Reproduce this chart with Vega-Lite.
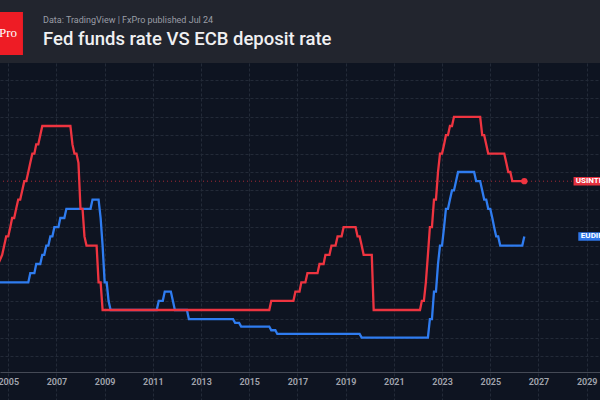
{
  "$schema": "https://vega.github.io/schema/vega-lite/v6.json",
  "width": 600,
  "height": 337,
  "autosize": {"type": "none"},
  "padding": {"top": 63, "left": 0, "right": 0, "bottom": 0},
  "background": "#22252e",
  "title": {
    "text": "Data: TradingView | FxPro published Jul 24",
    "subtitle": "Fed funds rate VS ECB deposit rate",
    "anchor": "start",
    "frame": "group",
    "dx": 43,
    "offset": -37,
    "font": "Roboto",
    "fontSize": 9,
    "fontWeight": "normal",
    "color": "#9a9da6",
    "subtitleFont": "Roboto",
    "subtitleFontSize": 18.5,
    "subtitleFontWeight": 500,
    "subtitleColor": "#f0f0f2",
    "subtitlePadding": 5
  },
  "config": {
    "view": {"fill": "#0e1421", "stroke": null},
    "axis": {"gridColor": "#232a38", "gridDash": [3, 2], "gridWidth": 1}
  },
  "datasets": {
    "rates": [
      {"date": "2004-08-01", "series": "USINTR", "rate": 1.5},
      {"date": "2004-10-01", "series": "USINTR", "rate": 1.75},
      {"date": "2004-11-01", "series": "USINTR", "rate": 2.0},
      {"date": "2004-12-01", "series": "USINTR", "rate": 2.25},
      {"date": "2005-01-01", "series": "USINTR", "rate": 2.25},
      {"date": "2005-02-01", "series": "USINTR", "rate": 2.5},
      {"date": "2005-03-01", "series": "USINTR", "rate": 2.75},
      {"date": "2005-04-01", "series": "USINTR", "rate": 2.75},
      {"date": "2005-05-01", "series": "USINTR", "rate": 3.0},
      {"date": "2005-06-01", "series": "USINTR", "rate": 3.25},
      {"date": "2005-07-01", "series": "USINTR", "rate": 3.25},
      {"date": "2005-08-01", "series": "USINTR", "rate": 3.5},
      {"date": "2005-09-01", "series": "USINTR", "rate": 3.75},
      {"date": "2005-10-01", "series": "USINTR", "rate": 3.75},
      {"date": "2005-11-01", "series": "USINTR", "rate": 4.0},
      {"date": "2005-12-01", "series": "USINTR", "rate": 4.25},
      {"date": "2006-01-01", "series": "USINTR", "rate": 4.5},
      {"date": "2006-02-01", "series": "USINTR", "rate": 4.5},
      {"date": "2006-03-01", "series": "USINTR", "rate": 4.75},
      {"date": "2006-04-01", "series": "USINTR", "rate": 4.75},
      {"date": "2006-05-01", "series": "USINTR", "rate": 5.0},
      {"date": "2006-06-01", "series": "USINTR", "rate": 5.25},
      {"date": "2007-08-01", "series": "USINTR", "rate": 5.25},
      {"date": "2007-09-01", "series": "USINTR", "rate": 4.75},
      {"date": "2007-10-01", "series": "USINTR", "rate": 4.5},
      {"date": "2007-11-01", "series": "USINTR", "rate": 4.5},
      {"date": "2007-12-01", "series": "USINTR", "rate": 4.25},
      {"date": "2008-01-01", "series": "USINTR", "rate": 3.0},
      {"date": "2008-02-01", "series": "USINTR", "rate": 3.0},
      {"date": "2008-03-01", "series": "USINTR", "rate": 2.25},
      {"date": "2008-04-01", "series": "USINTR", "rate": 2.0},
      {"date": "2008-09-01", "series": "USINTR", "rate": 2.0},
      {"date": "2008-10-01", "series": "USINTR", "rate": 1.0},
      {"date": "2008-11-01", "series": "USINTR", "rate": 1.0},
      {"date": "2008-12-01", "series": "USINTR", "rate": 0.25},
      {"date": "2015-11-01", "series": "USINTR", "rate": 0.25},
      {"date": "2015-12-01", "series": "USINTR", "rate": 0.5},
      {"date": "2016-11-01", "series": "USINTR", "rate": 0.5},
      {"date": "2016-12-01", "series": "USINTR", "rate": 0.75},
      {"date": "2017-02-01", "series": "USINTR", "rate": 0.75},
      {"date": "2017-03-01", "series": "USINTR", "rate": 1.0},
      {"date": "2017-05-01", "series": "USINTR", "rate": 1.0},
      {"date": "2017-06-01", "series": "USINTR", "rate": 1.25},
      {"date": "2017-11-01", "series": "USINTR", "rate": 1.25},
      {"date": "2017-12-01", "series": "USINTR", "rate": 1.5},
      {"date": "2018-02-01", "series": "USINTR", "rate": 1.5},
      {"date": "2018-03-01", "series": "USINTR", "rate": 1.75},
      {"date": "2018-05-01", "series": "USINTR", "rate": 1.75},
      {"date": "2018-06-01", "series": "USINTR", "rate": 2.0},
      {"date": "2018-08-01", "series": "USINTR", "rate": 2.0},
      {"date": "2018-09-01", "series": "USINTR", "rate": 2.25},
      {"date": "2018-11-01", "series": "USINTR", "rate": 2.25},
      {"date": "2018-12-01", "series": "USINTR", "rate": 2.5},
      {"date": "2019-06-01", "series": "USINTR", "rate": 2.5},
      {"date": "2019-07-01", "series": "USINTR", "rate": 2.25},
      {"date": "2019-08-01", "series": "USINTR", "rate": 2.25},
      {"date": "2019-09-01", "series": "USINTR", "rate": 2.0},
      {"date": "2019-10-01", "series": "USINTR", "rate": 1.75},
      {"date": "2020-02-01", "series": "USINTR", "rate": 1.75},
      {"date": "2020-03-01", "series": "USINTR", "rate": 0.25},
      {"date": "2022-02-01", "series": "USINTR", "rate": 0.25},
      {"date": "2022-03-01", "series": "USINTR", "rate": 0.5},
      {"date": "2022-04-01", "series": "USINTR", "rate": 0.5},
      {"date": "2022-05-01", "series": "USINTR", "rate": 1.0},
      {"date": "2022-06-01", "series": "USINTR", "rate": 1.75},
      {"date": "2022-07-01", "series": "USINTR", "rate": 2.5},
      {"date": "2022-08-01", "series": "USINTR", "rate": 2.5},
      {"date": "2022-09-01", "series": "USINTR", "rate": 3.25},
      {"date": "2022-10-01", "series": "USINTR", "rate": 3.25},
      {"date": "2022-11-01", "series": "USINTR", "rate": 4.0},
      {"date": "2022-12-01", "series": "USINTR", "rate": 4.5},
      {"date": "2023-01-01", "series": "USINTR", "rate": 4.5},
      {"date": "2023-02-01", "series": "USINTR", "rate": 4.75},
      {"date": "2023-03-01", "series": "USINTR", "rate": 5.0},
      {"date": "2023-04-01", "series": "USINTR", "rate": 5.0},
      {"date": "2023-05-01", "series": "USINTR", "rate": 5.25},
      {"date": "2023-06-01", "series": "USINTR", "rate": 5.25},
      {"date": "2023-07-01", "series": "USINTR", "rate": 5.5},
      {"date": "2024-08-01", "series": "USINTR", "rate": 5.5},
      {"date": "2024-09-01", "series": "USINTR", "rate": 5.0},
      {"date": "2024-10-01", "series": "USINTR", "rate": 5.0},
      {"date": "2024-11-01", "series": "USINTR", "rate": 4.75},
      {"date": "2024-12-01", "series": "USINTR", "rate": 4.5},
      {"date": "2025-08-01", "series": "USINTR", "rate": 4.5},
      {"date": "2025-09-01", "series": "USINTR", "rate": 4.25},
      {"date": "2025-10-01", "series": "USINTR", "rate": 4.0},
      {"date": "2025-11-01", "series": "USINTR", "rate": 4.0},
      {"date": "2025-12-01", "series": "USINTR", "rate": 3.75},
      {"date": "2026-06-01", "series": "USINTR", "rate": 3.75},
      {"date": "2004-08-01", "series": "EUDIR", "rate": 1.0},
      {"date": "2005-11-01", "series": "EUDIR", "rate": 1.0},
      {"date": "2005-12-01", "series": "EUDIR", "rate": 1.25},
      {"date": "2006-02-01", "series": "EUDIR", "rate": 1.25},
      {"date": "2006-03-01", "series": "EUDIR", "rate": 1.5},
      {"date": "2006-05-01", "series": "EUDIR", "rate": 1.5},
      {"date": "2006-06-01", "series": "EUDIR", "rate": 1.75},
      {"date": "2006-07-01", "series": "EUDIR", "rate": 1.75},
      {"date": "2006-08-01", "series": "EUDIR", "rate": 2.0},
      {"date": "2006-09-01", "series": "EUDIR", "rate": 2.0},
      {"date": "2006-10-01", "series": "EUDIR", "rate": 2.25},
      {"date": "2006-11-01", "series": "EUDIR", "rate": 2.25},
      {"date": "2006-12-01", "series": "EUDIR", "rate": 2.5},
      {"date": "2007-02-01", "series": "EUDIR", "rate": 2.5},
      {"date": "2007-03-01", "series": "EUDIR", "rate": 2.75},
      {"date": "2007-05-01", "series": "EUDIR", "rate": 2.75},
      {"date": "2007-06-01", "series": "EUDIR", "rate": 3.0},
      {"date": "2008-06-01", "series": "EUDIR", "rate": 3.0},
      {"date": "2008-07-01", "series": "EUDIR", "rate": 3.25},
      {"date": "2008-10-01", "series": "EUDIR", "rate": 3.25},
      {"date": "2008-11-01", "series": "EUDIR", "rate": 2.75},
      {"date": "2008-12-01", "series": "EUDIR", "rate": 2.0},
      {"date": "2009-01-01", "series": "EUDIR", "rate": 1.0},
      {"date": "2009-02-01", "series": "EUDIR", "rate": 1.0},
      {"date": "2009-03-01", "series": "EUDIR", "rate": 0.5},
      {"date": "2009-04-01", "series": "EUDIR", "rate": 0.25},
      {"date": "2011-03-01", "series": "EUDIR", "rate": 0.25},
      {"date": "2011-04-01", "series": "EUDIR", "rate": 0.5},
      {"date": "2011-06-01", "series": "EUDIR", "rate": 0.5},
      {"date": "2011-07-01", "series": "EUDIR", "rate": 0.75},
      {"date": "2011-10-01", "series": "EUDIR", "rate": 0.75},
      {"date": "2011-11-01", "series": "EUDIR", "rate": 0.5},
      {"date": "2011-12-01", "series": "EUDIR", "rate": 0.25},
      {"date": "2012-06-01", "series": "EUDIR", "rate": 0.25},
      {"date": "2012-07-01", "series": "EUDIR", "rate": 0.0},
      {"date": "2014-05-01", "series": "EUDIR", "rate": 0.0},
      {"date": "2014-06-01", "series": "EUDIR", "rate": -0.1},
      {"date": "2014-08-01", "series": "EUDIR", "rate": -0.1},
      {"date": "2014-09-01", "series": "EUDIR", "rate": -0.2},
      {"date": "2015-11-01", "series": "EUDIR", "rate": -0.2},
      {"date": "2015-12-01", "series": "EUDIR", "rate": -0.3},
      {"date": "2016-02-01", "series": "EUDIR", "rate": -0.3},
      {"date": "2016-03-01", "series": "EUDIR", "rate": -0.4},
      {"date": "2019-08-01", "series": "EUDIR", "rate": -0.4},
      {"date": "2019-09-01", "series": "EUDIR", "rate": -0.5},
      {"date": "2022-06-01", "series": "EUDIR", "rate": -0.5},
      {"date": "2022-07-01", "series": "EUDIR", "rate": 0.0},
      {"date": "2022-08-01", "series": "EUDIR", "rate": 0.0},
      {"date": "2022-09-01", "series": "EUDIR", "rate": 0.75},
      {"date": "2022-10-01", "series": "EUDIR", "rate": 0.75},
      {"date": "2022-11-01", "series": "EUDIR", "rate": 1.5},
      {"date": "2022-12-01", "series": "EUDIR", "rate": 2.0},
      {"date": "2023-01-01", "series": "EUDIR", "rate": 2.0},
      {"date": "2023-02-01", "series": "EUDIR", "rate": 2.5},
      {"date": "2023-03-01", "series": "EUDIR", "rate": 3.0},
      {"date": "2023-04-01", "series": "EUDIR", "rate": 3.0},
      {"date": "2023-05-01", "series": "EUDIR", "rate": 3.25},
      {"date": "2023-06-01", "series": "EUDIR", "rate": 3.5},
      {"date": "2023-07-01", "series": "EUDIR", "rate": 3.5},
      {"date": "2023-08-01", "series": "EUDIR", "rate": 3.75},
      {"date": "2023-09-01", "series": "EUDIR", "rate": 4.0},
      {"date": "2024-05-01", "series": "EUDIR", "rate": 4.0},
      {"date": "2024-06-01", "series": "EUDIR", "rate": 3.75},
      {"date": "2024-08-01", "series": "EUDIR", "rate": 3.75},
      {"date": "2024-09-01", "series": "EUDIR", "rate": 3.5},
      {"date": "2024-10-01", "series": "EUDIR", "rate": 3.25},
      {"date": "2024-11-01", "series": "EUDIR", "rate": 3.25},
      {"date": "2024-12-01", "series": "EUDIR", "rate": 3.0},
      {"date": "2025-01-01", "series": "EUDIR", "rate": 3.0},
      {"date": "2025-02-01", "series": "EUDIR", "rate": 2.75},
      {"date": "2025-03-01", "series": "EUDIR", "rate": 2.5},
      {"date": "2025-04-01", "series": "EUDIR", "rate": 2.25},
      {"date": "2025-05-01", "series": "EUDIR", "rate": 2.25},
      {"date": "2025-06-01", "series": "EUDIR", "rate": 2.0},
      {"date": "2026-05-01", "series": "EUDIR", "rate": 2.0},
      {"date": "2026-06-01", "series": "EUDIR", "rate": 2.25}
    ]
  },
  "data": {"name": "rates"},
  "encoding": {
    "x": {
      "field": "date",
      "type": "temporal",
      "scale": {"domain": [{"year": 2004, "month": 8, "date": 29}, {"year": 2029, "month": 7, "date": 22}]},
      "axis": {
        "orient": "bottom",
        "offset": -28,
        "title": null,
        "format": "%Y",
        "values": [
          {"year": 2005, "month": 1, "date": 1}, {"year": 2007, "month": 1, "date": 1},
          {"year": 2009, "month": 1, "date": 1}, {"year": 2011, "month": 1, "date": 1},
          {"year": 2013, "month": 1, "date": 1}, {"year": 2015, "month": 1, "date": 1},
          {"year": 2017, "month": 1, "date": 1}, {"year": 2019, "month": 1, "date": 1},
          {"year": 2021, "month": 1, "date": 1}, {"year": 2023, "month": 1, "date": 1},
          {"year": 2025, "month": 1, "date": 1}, {"year": 2027, "month": 1, "date": 1},
          {"year": 2029, "month": 1, "date": 1}
        ],
        "ticks": false,
        "domainColor": "#454a56",
        "domainWidth": 1,
        "labelColor": "#a3a6af",
        "labelFont": "Roboto",
        "labelFontSize": 9,
        "labelFontWeight": 600,
        "labelPadding": 5,
        "labelFlush": false,
        "labelOverlap": false
      }
    },
    "y": {
      "field": "rate",
      "type": "quantitative",
      "scale": {"domain": [-2.196, 6.962], "nice": false, "zero": false},
      "axis": {
        "title": null,
        "labels": false,
        "ticks": false,
        "domain": false,
        "values": [-1, -0.5, 0, 0.5, 1, 1.5, 2, 2.5, 3, 3.5, 4, 4.5, 5, 5.5, 6, 6.5]
      }
    }
  },
  "layer": [
    {
      "transform": [{"filter": "datum.series === 'USINTR'"}, {"filter": {"field": "date", "timeUnit": "yearmonth", "equal": {"year": 2026, "month": 6}}}],
      "mark": {"type": "rule", "color": "#e8323f", "strokeDash": [1, 3], "strokeWidth": 1, "opacity": 0.7},
      "encoding": {"x": null}
    },
    {
      "transform": [{"filter": "datum.series === 'EUDIR'"}],
      "mark": {"type": "line", "clip": true, "color": "#2f7cf0", "strokeWidth": 2.3},
      "encoding": {}
    },
    {
      "transform": [{"filter": "datum.series === 'USINTR'"}],
      "mark": {"type": "line", "clip": true, "color": "#ee3440", "strokeWidth": 2.3},
      "encoding": {}
    },
    {
      "transform": [{"filter": "datum.series === 'USINTR'"}, {"filter": {"field": "date", "timeUnit": "yearmonth", "equal": {"year": 2026, "month": 6}}}],
      "mark": {"type": "point", "filled": true, "opacity": 1, "color": "#ee3440", "size": 40},
      "encoding": {}
    },
    {
      "transform": [{"filter": "datum.series === 'USINTR'"}, {"filter": {"field": "date", "timeUnit": "yearmonth", "equal": {"year": 2026, "month": 6}}}],
      "mark": {"type": "rule", "color": "#e5323f", "strokeWidth": 8.5, "strokeCap": "butt"},
      "encoding": {
        "x": {"datum": {"year": 2028, "month": 6, "date": 16}, "type": "temporal"},
        "x2": {"datum": {"year": 2030, "month": 6, "date": 1}}
      }
    },
    {
      "transform": [{"filter": "datum.series === 'USINTR'"}, {"filter": {"field": "date", "timeUnit": "yearmonth", "equal": {"year": 2026, "month": 6}}}],
      "mark": {"type": "text", "align": "left", "baseline": "middle", "font": "Roboto", "fontSize": 8, "fontWeight": "bold", "color": "#ffffff"},
      "encoding": {
        "x": {"datum": {"year": 2028, "month": 7, "date": 20}, "type": "temporal"},
        "text": {"field": "series"}
      }
    },
    {
      "transform": [{"filter": "datum.series === 'EUDIR'"}, {"filter": {"field": "date", "timeUnit": "yearmonth", "equal": {"year": 2026, "month": 6}}}],
      "mark": {"type": "rule", "color": "#2f76e8", "strokeWidth": 8.5, "strokeCap": "butt"},
      "encoding": {
        "x": {"datum": {"year": 2028, "month": 8, "date": 27}, "type": "temporal"},
        "x2": {"datum": {"year": 2030, "month": 6, "date": 1}}
      }
    },
    {
      "transform": [{"filter": "datum.series === 'EUDIR'"}, {"filter": {"field": "date", "timeUnit": "yearmonth", "equal": {"year": 2026, "month": 6}}}],
      "mark": {"type": "text", "align": "left", "baseline": "middle", "font": "Roboto", "fontSize": 8, "fontWeight": "bold", "color": "#ffffff"},
      "encoding": {
        "x": {"datum": {"year": 2028, "month": 10, "date": 5}, "type": "temporal"},
        "text": {"field": "series"}
      }
    },
    {
      "transform": [{"filter": "datum.series === 'USINTR'"}, {"filter": {"field": "date", "timeUnit": "yearmonth", "equal": {"year": 2026, "month": 6}}}],
      "mark": {"type": "rect", "color": "#ee1c25"},
      "encoding": {
        "x": {"datum": {"year": 2004, "month": 8, "date": 29}, "type": "temporal"},
        "x2": {"datum": {"year": 2005, "month": 8, "date": 12}},
        "y": {"datum": 8.348, "type": "quantitative"},
        "y2": {"datum": 7.179}
      }
    },
    {
      "transform": [{"filter": "datum.series === 'USINTR'"}, {"filter": {"field": "date", "timeUnit": "yearmonth", "equal": {"year": 2026, "month": 6}}}],
      "mark": {"type": "text", "align": "right", "baseline": "alphabetic", "font": "Liberation Serif", "fontSize": 13, "color": "#ffffff", "text": "FxPro"},
      "encoding": {
        "x": {"datum": {"year": 2005, "month": 5, "date": 14}, "type": "temporal"},
        "y": {"datum": 7.66, "type": "quantitative"}
      }
    }
  ]
}
